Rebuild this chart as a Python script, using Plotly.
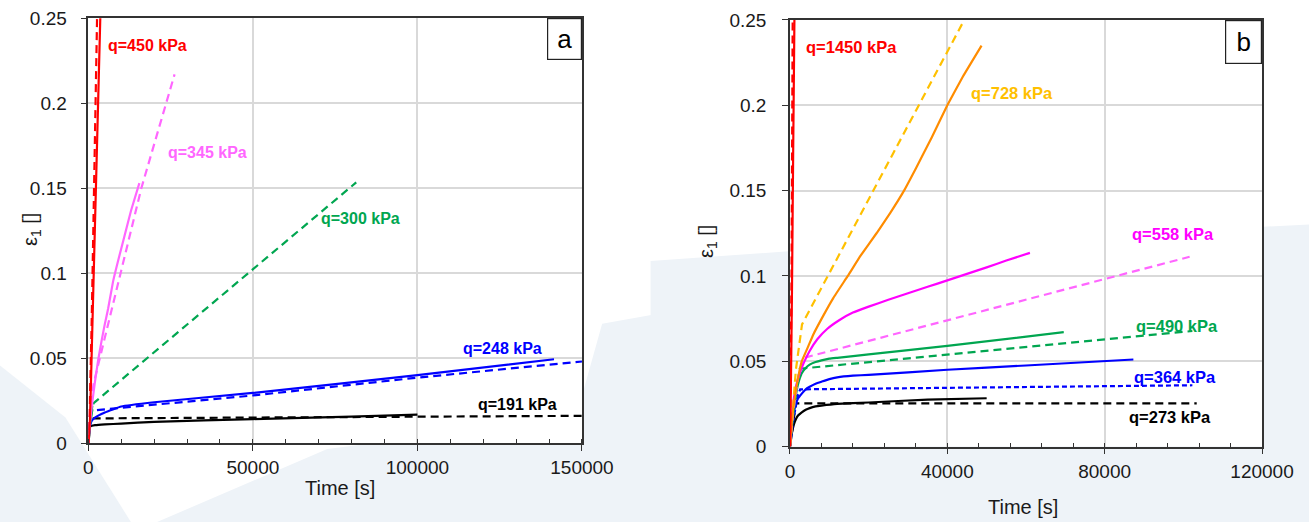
import plotly.graph_objects as go

# ---------------- Panel a data ----------------
a_red_s_t = [0, 500, 1000, 2000, 3000, 3700]
a_red_s_e = [0, 0.015, 0.052, 0.128, 0.203, 0.256]
a_red_d_t = [0, 300, 1000, 2000, 2700]
a_red_d_e = [0, 0.010, 0.070, 0.170, 0.256]
a_vio_s_t = [0, 500, 1000, 2000, 3000, 4000, 5000, 6000, 7500, 9000, 11000, 13000, 15500]
a_vio_s_e = [0, 0.012, 0.021, 0.036, 0.049, 0.060, 0.070, 0.079, 0.095, 0.107, 0.122, 0.137, 0.153]
a_vio_d_t = [0, 500, 1600, 9800, 16100, 26200]
a_vio_d_e = [0, 0.020, 0.035, 0.100, 0.150, 0.217]
a_grn_s_t = [0, 300, 800, 1200]
a_grn_s_e = [0, 0.008, 0.015, 0.022]
a_grn_d_t = [0, 500, 1600, 81400]
a_grn_d_e = [0, 0.012, 0.0235, 0.1534]
a_blu_s_t = [0, 300, 1000, 2000, 5000, 10000, 20000, 50000, 100000, 141500]
a_blu_s_e = [0, 0.008, 0.013, 0.015, 0.018, 0.0215, 0.024, 0.0295, 0.040, 0.0493]
a_blu_d_t = [0, 300, 600, 1500, 10000, 50000, 100000, 150000]
a_blu_d_e = [0, 0.012, 0.019, 0.0192, 0.0208, 0.028, 0.0385, 0.048]
a_blk_s_t = [0, 300, 600, 2000, 5000, 10000, 20000, 50000, 80000, 100000]
a_blk_s_e = [0, 0.005, 0.0098, 0.0105, 0.011, 0.0114, 0.0125, 0.0141, 0.0155, 0.0167]
a_blk_d_t = [0, 300, 1000, 50000, 100000, 150000]
a_blk_d_e = [0, 0.010, 0.0145, 0.0150, 0.0156, 0.0160]

a_labels = ["q=450 kPa", "q=345 kPa", "q=300 kPa", "q=248 kPa", "q=191 kPa"]
a_label_t = [18100, 36100, 82600, 125700, 130400]
a_label_e = [0.234, 0.1708, 0.132, 0.0557, 0.0229]

# ---------------- Panel b data ----------------
b_red_s_t = [0, 200, 500, 800, 1150]
b_red_s_e = [0, 0.030, 0.090, 0.170, 0.256]
b_red_d_t = [0, 150, 400, 700]
b_red_d_e = [0, 0.030, 0.100, 0.256]
b_org_s_t = [0, 300, 800, 1500, 2200, 3000, 4500, 6000, 8300, 11000, 14700, 18000, 22000, 25500,
             29000, 32000, 36000, 40000, 44000, 48700]
b_org_s_e = [0, 0.010, 0.022, 0.033, 0.042, 0.050, 0.058, 0.066, 0.076, 0.087, 0.100, 0.112, 0.125,
             0.137, 0.150, 0.163, 0.181, 0.200, 0.217, 0.235]
b_org_d_t = [0, 700, 1500, 3060, 44300]
b_org_d_e = [0, 0.020, 0.045, 0.0716, 0.250]
b_mag_s_t = [0, 300, 800, 1500, 2500, 3500, 5000, 7000, 9500, 12500, 16000, 20000, 25000, 30000,
             35000, 40000, 45000, 50000, 55000, 61000]
b_mag_s_e = [0, 0.012, 0.025, 0.035, 0.043, 0.049, 0.056, 0.063, 0.069, 0.074, 0.0785, 0.0820,
             0.0860, 0.0898, 0.0936, 0.0974, 0.1012, 0.1050, 0.1090, 0.1135]
b_mag_d_t = [0, 800, 2000, 3600, 101600]
b_mag_d_e = [0, 0.020, 0.040, 0.052, 0.1112]
b_grn_s_t = [0, 500, 1000, 1500, 2000, 2500, 3000, 4000, 5000, 6500, 8000, 10000, 12000, 20000,
             40000, 69600]
b_grn_s_e = [0, 0.012, 0.022, 0.030, 0.036, 0.040, 0.043, 0.046, 0.048, 0.0495, 0.0505, 0.0515,
             0.052, 0.054, 0.059, 0.067]
b_grn_d_t = [0, 1000, 2500, 102300]
b_grn_d_e = [0, 0.025, 0.0456, 0.0677]
b_blu_s_t = [0, 500, 1000, 1500, 2000, 3000, 4000, 5000, 6500, 8000, 10000, 12000, 16000, 20000,
             40000, 60000, 87300]
b_blu_s_e = [0, 0.012, 0.020, 0.025, 0.028, 0.031, 0.0335, 0.035, 0.0368, 0.038, 0.0395, 0.0405,
             0.0415, 0.042, 0.045, 0.0475, 0.051]
b_blu_d_t = [0, 800, 2000, 2600, 102300]
b_blu_d_e = [0, 0.015, 0.030, 0.0335, 0.0359]
b_blk_s_t = [0, 500, 1000, 1500, 2000, 3000, 4000, 5000, 6500, 8000, 12000, 20000, 35000, 50000]
b_blk_s_e = [0, 0.008, 0.013, 0.016, 0.018, 0.020, 0.0215, 0.0225, 0.0235, 0.024, 0.025, 0.0258,
             0.0275, 0.0283]
b_blk_d_t = [0, 600, 1500, 103400]
b_blk_d_e = [0, 0.010, 0.0253, 0.0253]

b_labels = ["q=1450 kPa", "q=728 kPa", "q=558 kPa", "q=490 kPa", "q=364 kPa", "q=273 kPa"]
b_label_t = [15700, 56400, 97400, 98500, 97800, 96700]
b_label_e = [0.2342, 0.2072, 0.1245, 0.0706, 0.0407, 0.0173]

y_ticks = [0, 0.05, 0.1, 0.15, 0.2, 0.25]
y_ticktext = ["0", "0.05", "0.1", "0.15", "0.2", "0.25"]

RED = "#ff0000"
VIO = "#ff66ff"
GRN = "#00a650"
BLU = "#0000ff"
BLK = "#000000"
ORG = "#ff8c00"
GLD = "#ffc000"
MAG = "#ff00ff"

DASH = "8px,5px"
FINE = "5px,3px"
LW = 2.2

fig = go.Figure()


def add(t, e, color, dash, xa, ya):
    line = dict(color=color, width=LW, dash=dash)
    if dash == "solid":
        line.update(shape="spline", smoothing=0.3)
    fig.add_trace(go.Scatter(
        x=t, y=e, mode="lines", xaxis=xa, yaxis=ya, showlegend=False,
        line=line, hoverinfo="skip"))


# panel a
add(a_blk_d_t, a_blk_d_e, BLK, DASH, "x", "y")
add(a_blk_s_t, a_blk_s_e, BLK, "solid", "x", "y")
add(a_blu_d_t, a_blu_d_e, BLU, DASH, "x", "y")
add(a_blu_s_t, a_blu_s_e, BLU, "solid", "x", "y")
add(a_grn_d_t, a_grn_d_e, GRN, DASH, "x", "y")
add(a_grn_s_t, a_grn_s_e, GRN, "solid", "x", "y")
add(a_vio_d_t, a_vio_d_e, VIO, DASH, "x", "y")
add(a_vio_s_t, a_vio_s_e, VIO, "solid", "x", "y")
add(a_red_d_t, a_red_d_e, RED, DASH, "x", "y")
add(a_red_s_t, a_red_s_e, RED, "solid", "x", "y")

# panel b
add(b_blk_d_t, b_blk_d_e, BLK, DASH, "x2", "y2")
add(b_blk_s_t, b_blk_s_e, BLK, "solid", "x2", "y2")
add(b_blu_d_t, b_blu_d_e, BLU, FINE, "x2", "y2")
add(b_blu_s_t, b_blu_s_e, BLU, "solid", "x2", "y2")
add(b_grn_d_t, b_grn_d_e, GRN, DASH, "x2", "y2")
add(b_grn_s_t, b_grn_s_e, GRN, "solid", "x2", "y2")
add(b_mag_d_t, b_mag_d_e, VIO, DASH, "x2", "y2")
add(b_mag_s_t, b_mag_s_e, MAG, "solid", "x2", "y2")
add(b_org_d_t, b_org_d_e, GLD, DASH, "x2", "y2")
add(b_org_s_t, b_org_s_e, ORG, "solid", "x2", "y2")
add(b_red_d_t, b_red_d_e, RED, DASH, "x2", "y2")
add(b_red_s_t, b_red_s_e, RED, "solid", "x2", "y2")

FONT = "Liberation Sans, Arial, sans-serif"
TICKFONT = dict(family=FONT, size=19, color="#1a1a1a")

axis_common = dict(
    showline=True, linecolor="#333333", linewidth=1.5, mirror=True,
    showgrid=True, gridcolor="#d9d9d9", gridwidth=1.5,
    ticks="outside", ticklen=6, tickcolor="#333333", tickwidth=1.2,
    tickfont=TICKFONT, zeroline=False, automargin=False,
)

fig.update_layout(
    width=1309, height=522,
    margin=dict(l=0, r=0, t=0, b=0, pad=0, autoexpand=False),
    paper_bgcolor="white", plot_bgcolor="white",
    font=dict(family=FONT),
    xaxis=dict(domain=[0.0675, 0.4446], range=[0, 150000], tickvals=[0, 50000, 100000, 150000],
               ticktext=["0", "50000", "100000", "150000"], ticklabelstandoff=0,
               minor=dict(ticks="inside", ticklen=4, dtick=10000, tickcolor="#333333", showgrid=False),
               anchor="y", **axis_common),
    yaxis=dict(domain=[0.1513, 0.9649], range=[0, 0.25], tickvals=y_ticks, ticktext=y_ticktext,
               ticklabelstandoff=10, anchor="x", **axis_common),
    xaxis2=dict(domain=[0.6035, 0.9641], range=[0, 120000], tickvals=[0, 40000, 80000, 120000],
                ticktext=["0", "40000", "80000", "120000"], ticklabelstandoff=1,
                minor=dict(ticks="inside", ticklen=4, dtick=8000, tickcolor="#333333", showgrid=False),
                anchor="y2", **axis_common),
    yaxis2=dict(domain=[0.1446, 0.9617], range=[0, 0.25], tickvals=y_ticks, ticktext=y_ticktext,
                ticklabelstandoff=12, anchor="x2", **axis_common),
)

# decorative light background swooshes
BG = "#eef3f8"
shapes = [
    dict(type="path", xref="paper", yref="paper", layer="below", line=dict(width=0), fillcolor=BG,
         path="M 0.497 0.50 L 0.61 0.52 L 1 0.57 L 1 0 L 0.497 0 Z"),
    dict(type="path", xref="paper", yref="paper", layer="below", line=dict(width=0), fillcolor=BG,
         path="M 0.12 0 L 0.25 0.14 L 0.44 0.20 L 0.46 0.38 L 0.505 0.40 L 0.505 0 Z"),
    dict(type="path", xref="paper", yref="paper", layer="below", line=dict(width=0), fillcolor=BG,
         path="M 0 0.30 L 0.05 0.20 L 0.10 0 L 0 0 Z"),
    dict(type="rect", xref="paper", yref="paper", layer="below", line=dict(width=0), fillcolor="white",
         x0=0.0675, x1=0.4446, y0=0.1513, y1=0.9649),
    dict(type="rect", xref="paper", yref="paper", layer="below", line=dict(width=0), fillcolor="white",
         x0=0.6035, x1=0.9641, y0=0.1446, y1=0.9617),
]
fig.update_layout(shapes=shapes)

ann = []
a_colors = [RED, VIO, GRN, BLU, BLK]
for txt, t, e, c in zip(a_labels, a_label_t, a_label_e, a_colors):
    ann.append(dict(x=t, y=e, xref="x", yref="y", text="<b>%s</b>" % txt, showarrow=False,
                    xanchor="center", yanchor="middle",
                    font=dict(family=FONT, size=16, color=c)))
b_colors = [RED, GLD, MAG, GRN, BLU, BLK]
for txt, t, e, c in zip(b_labels, b_label_t, b_label_e, b_colors):
    ann.append(dict(x=t, y=e, xref="x2", yref="y2", text="<b>%s</b>" % txt, showarrow=False,
                    xanchor="center", yanchor="middle",
                    font=dict(family=FONT, size=16.5, color=c)))

# panel letters
ann.append(dict(x=1, y=1, xref="x domain", yref="y domain", xanchor="right", yanchor="top",
                text="a", showarrow=False, width=33, height=40, bgcolor="white",
                bordercolor="#222222", borderwidth=1.2, borderpad=0,
                font=dict(family=FONT, size=26, color="black")))
ann.append(dict(x=1, y=1, xref="x2 domain", yref="y2 domain", xanchor="right", yanchor="top",
                text="b", showarrow=False, width=35, height=42, bgcolor="white",
                bordercolor="#222222", borderwidth=1.2, borderpad=0,
                font=dict(family=FONT, size=26, color="black")))

# axis titles
TF = dict(family=FONT, size=20, color="#1a1a1a")
ann.append(dict(x=340 / 1309, y=1 - 488 / 522, xref="paper", yref="paper", text="Time [s]",
                xanchor="center", yanchor="middle", showarrow=False, font=TF))
ann.append(dict(x=1023 / 1309, y=1 - 507 / 522, xref="paper", yref="paper", text="Time [s]",
                xanchor="center", yanchor="middle", showarrow=False, font=TF))
ann.append(dict(x=32 / 1309, y=1 - 230 / 522, xref="paper", yref="paper", text="ε<sub>1</sub> []",
                xanchor="center", yanchor="middle", showarrow=False, textangle=-90, font=TF))
ann.append(dict(x=707 / 1309, y=1 - 242 / 522, xref="paper", yref="paper", text="ε<sub>1</sub> []",
                xanchor="center", yanchor="middle", showarrow=False, textangle=-90, font=TF))

fig.update_layout(annotations=ann)

fig.write_html("out.html")
